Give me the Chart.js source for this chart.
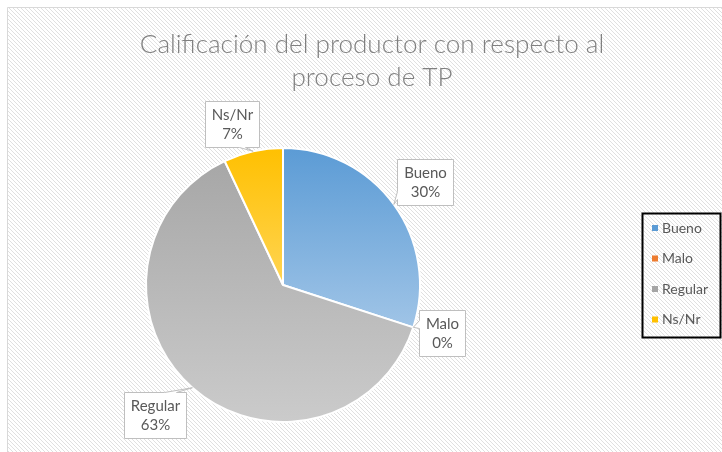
<!DOCTYPE html>
<html>
<head>
<meta charset="utf-8">
<script src="https://cdn.jsdelivr.net/npm/chart.js@4.4.1/dist/chart.umd.min.js"></script>
<style>
  html, body { margin: 0; padding: 0; background: #fff; }
  #wrap { width: 722px; height: 452px; }
</style>
</head>
<body>
<div id="wrap"><canvas id="grafico" width="722" height="452"></canvas></div>
<script>
// datos del gráfico
const titulo = ["Calificación del productor con respecto al", "proceso de TP"];
const categorias = ["Bueno", "Malo", "Regular", "Ns/Nr"];
const porcentajes = [30, 0, 63, 7];

// colores estilo Excel (arriba -> abajo)
const coloresBase = ["#5b9bd5", "#ed7d31", "#a5a5a5", "#ffc000"];
const coloresClaros = ["#c4daf0", "#f4b183", "#cbcbcb", "#ffe9a6"];

// posición de cada etiqueta respecto al borde del sector (centro de la caja, lado del piquito)
const etiquetasPos = [
  { dx: 31, dy: -22.5, lado: "left", b0: 32, b1: 40 },
  { dx: 29, dy: 5.5, lado: "left", b0: 10, b1: 18 },
  { dx: -37, dy: 27, lado: "top", b0: 40, b1: 52 },
  { dx: -21.5, dy: -27, lado: "bottom", b0: 34, b1: 40 }
];

const FUENTE = "Lato, 'Open Sans', sans-serif";
const GRIS_TEXTO = "#595959";

function degradado(ctx) {
  const i = ctx.dataIndex;
  const area = ctx.chart.chartArea;
  if (!area) return coloresBase[i];
  const g = ctx.chart.ctx.createLinearGradient(0, area.top, 0, area.bottom);
  g.addColorStop(0, coloresBase[i]);
  g.addColorStop(1, coloresClaros[i]);
  return g;
}

const fondoPlugin = {
  id: "fondo",
  beforeDraw(chart) {
    const c = chart.ctx;
    const W = chart.width, H = chart.height;
    c.save();
    c.fillStyle = "#fff";
    c.fillRect(0, 0, W, H);
    // trama diagonal
    c.beginPath();
    c.rect(7, 7, W, H);
    c.clip();
    c.strokeStyle = "#e0e0e0";
    c.lineWidth = 1;
    c.beginPath();
    for (let x = -H; x < W; x += 4) {
      c.moveTo(x, 7);
      c.lineTo(x + H, 7 + H);
    }
    c.stroke();
    c.restore();
    // borde del área del gráfico
    c.save();
    c.strokeStyle = "#d9d9d9";
    c.lineWidth = 1;
    c.beginPath();
    c.moveTo(7.5, H);
    c.lineTo(7.5, 7.5);
    c.lineTo(W, 7.5);
    c.stroke();
    c.restore();
  }
};

function cajaConPico(c, x, y, w, h, lado, b0, b1, tx, ty) {
  c.beginPath();
  c.moveTo(x, y);
  if (lado === "top") { c.lineTo(x + b0, y); c.lineTo(tx, ty); c.lineTo(x + b1, y); }
  c.lineTo(x + w, y);
  if (lado === "right") { c.lineTo(x + w, y + b0); c.lineTo(tx, ty); c.lineTo(x + w, y + b1); }
  c.lineTo(x + w, y + h);
  if (lado === "bottom") { c.lineTo(x + b1, y + h); c.lineTo(tx, ty); c.lineTo(x + b0, y + h); }
  c.lineTo(x, y + h);
  if (lado === "left") { c.lineTo(x, y + b1); c.lineTo(tx, ty); c.lineTo(x, y + b0); }
  c.closePath();
  c.fillStyle = "#fff";
  c.fill();
  c.strokeStyle = "#bfbfbf";
  c.lineWidth = 1;
  c.stroke();
}

const textosPlugin = {
  id: "textos",
  afterDraw(chart) {
    const c = chart.ctx;
    c.save();

    // título
    c.fillStyle = "#808080";
    c.textAlign = "center";
    c.textBaseline = "middle";
    c.font = "300 24px " + FUENTE;
    const ancho = c.measureText(titulo[0]).width;
    const tam = 24 * 465 / ancho;
    c.font = "300 " + tam.toFixed(1) + "px " + FUENTE;
    c.fillText(titulo[0], 372, 45);
    c.fillText(titulo[1], 372, 78);

    // etiquetas de datos
    const meta = chart.getDatasetMeta(0);
    c.font = "15px " + FUENTE;
    meta.data.forEach((arc, i) => {
      const p = arc.getProps(["x", "y", "startAngle", "endAngle", "outerRadius"], true);
      const mid = (p.startAngle + p.endAngle) / 2;
      const tx = p.x + Math.cos(mid) * p.outerRadius;
      const ty = p.y + Math.sin(mid) * p.outerRadius;
      const pos = etiquetasPos[i];
      const l1 = categorias[i];
      const l2 = porcentajes[i] + "%";
      const w = Math.round(Math.max(c.measureText(l1).width, c.measureText(l2).width) + 13);
      const h = 46;
      const cx = tx + pos.dx, cy = ty + pos.dy;
      const x = Math.round(cx - w / 2) + 0.5, y = Math.round(cy - h / 2) + 0.5;
      cajaConPico(c, x, y, w, h, pos.lado, pos.b0, pos.b1, tx, ty);
      c.fillStyle = GRIS_TEXTO;
      c.textAlign = "center";
      c.textBaseline = "middle";
      c.fillText(l1, x + w / 2, y + 14);
      c.fillText(l2, x + w / 2, y + 33);
    });

    // leyenda
    c.strokeStyle = "#000";
    c.lineWidth = 2;
    c.strokeRect(642.5, 213.5, 78, 124);
    c.font = "14px " + FUENTE;
    c.textAlign = "left";
    c.textBaseline = "middle";
    categorias.forEach((nombre, i) => {
      const yy = 228 + i * 30.5;
      c.fillStyle = coloresBase[i];
      c.fillRect(652, yy - 3, 6, 6);
      c.fillStyle = GRIS_TEXTO;
      c.fillText(nombre, 662, yy);
    });

    c.restore();
  }
};

new Chart(document.getElementById("grafico"), {
  type: "pie",
  data: {
    labels: categorias,
    datasets: [{
      data: porcentajes,
      backgroundColor: degradado,
      borderColor: "#ffffff",
      borderWidth: 2
    }]
  },
  options: {
    responsive: false,
    animation: false,
    layout: { padding: { left: 145, right: 301, top: 147, bottom: 29 } },
    plugins: {
      legend: { display: false },
      tooltip: { enabled: false },
      title: { display: false }
    }
  },
  plugins: [fondoPlugin, textosPlugin]
});
</script>
</body>
</html>
